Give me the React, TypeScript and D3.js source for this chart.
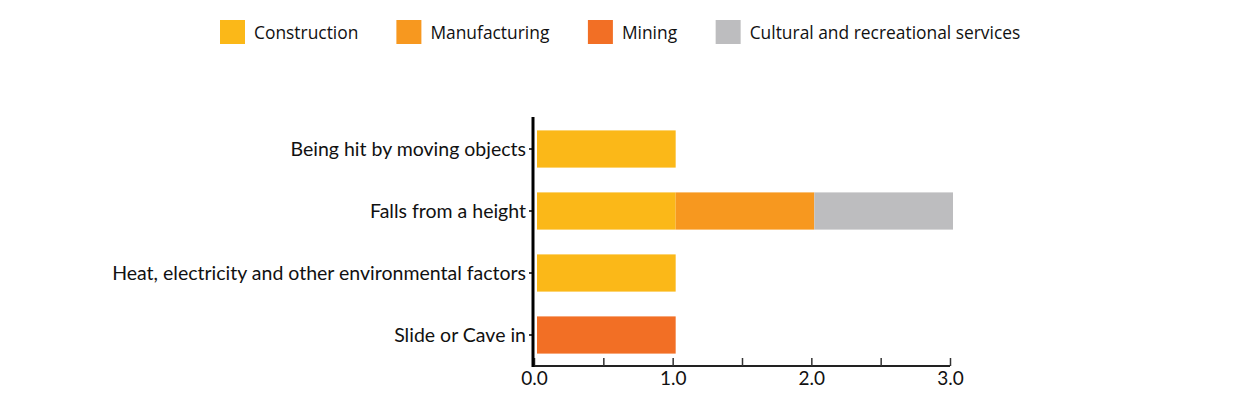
import React, { useRef, useEffect } from "react";
import * as d3 from "d3";

const categories = [
  "Being hit by moving objects",
  "Falls from a height",
  "Heat, electricity and other environmental factors",
  "Slide or Cave in",
];
const industries = ["Construction", "Manufacturing", "Mining", "Cultural and recreational services"];
const construction = [1, 1, 1, 0];
const manufacturing = [0, 1, 0, 0];
const mining = [0, 0, 0, 1];
const cultural = [0, 1, 0, 0];
const colors = ["#fbb818", "#f7981f", "#f26f25", "#bdbdbf"];
const xTicks = [0, 0.5, 1, 1.5, 2, 2.5, 3];

const W = 1240;
const H = 406;

function draw(el: SVGSVGElement) {
  const svg = d3.select(el);
  svg.selectAll("*").remove();

  const rows = categories.map((c, i) => ({
    category: c,
    Construction: construction[i],
    Manufacturing: manufacturing[i],
    Mining: mining[i],
    "Cultural and recreational services": cultural[i],
  }));
  const stacked = d3.stack<any>().keys(industries)(rows);

  const x = d3.scaleLinear().domain([0, 3]).range([534, 950]);
  const y = d3
    .scaleBand()
    .domain(categories)
    .range([118, 366])
    .paddingInner(0.4)
    .paddingOuter(0.2);
  const color = d3.scaleOrdinal<string>().domain(industries).range(colors);
  const barShift = 3; // bars sit just right of the axis line

  // bars
  svg
    .append("g")
    .selectAll("g")
    .data(stacked)
    .join("g")
    .attr("fill", (s) => color(s.key))
    .selectAll("rect")
    .data((s) => s.filter((d) => d[1] - d[0] > 0))
    .join("rect")
    .attr("x", (d) => x(d[0]) + barShift)
    .attr("y", (d) => y(d.data.category)!)
    .attr("width", (d) => x(d[1]) - x(d[0]))
    .attr("height", y.bandwidth());

  // x axis
  const xAxis = svg
    .append("g")
    .attr("transform", "translate(0,366)")
    .call(
      d3
        .axisBottom(x)
        .tickValues(xTicks)
        .tickSize(-8)
        .tickPadding(6)
        .tickFormat((d) => (Number(d) % 1 === 0 ? d3.format(".1f")(d as number) : ""))
    );
  xAxis.select(".domain").attr("stroke", "#222").attr("stroke-width", 2).attr("d", "M533,0H950");
  xAxis.selectAll(".tick line").attr("stroke", "#333").attr("stroke-width", 1.5);
  xAxis
    .selectAll(".tick text")
    .attr("font-family", "Lato")
    .attr("font-size", 19)
    .attr("fill", "#111");

  // y axis
  const yAxis = svg
    .append("g")
    .attr("transform", "translate(533,0)")
    .call(d3.axisLeft(y).tickSize(4).tickPadding(3));
  yAxis.select(".domain").attr("stroke", "#000").attr("stroke-width", 3).attr("d", "M0,117V367");
  yAxis.selectAll(".tick line").attr("stroke", "#000").attr("stroke-width", 1.5);
  yAxis
    .selectAll(".tick text")
    .attr("font-family", "Lato")
    .attr("font-size", 19.5)
    .attr("dy", "0.36em")
    .attr("fill", "#111");

  // legend
  const legend = svg.append("g");
  let cx = 220;
  industries.forEach((k, i) => {
    const item = legend.append("g").attr("transform", `translate(${cx},0)`);
    item.append("rect").attr("x", 0).attr("y", 20).attr("width", 25).attr("height", 24).attr("fill", colors[i]);
    const t = item
      .append("text")
      .attr("x", 34)
      .attr("y", 33)
      .attr("dy", "0.35em")
      .attr("font-family", "Open Sans")
      .attr("font-size", 17.4)
      .attr("fill", "#111")
      .text(k);
    const w = (t.node() as SVGTextElement).getBBox().width;
    cx += 34 + w + 38;
  });
}

function App() {
  const svgRef = useRef<SVGSVGElement | null>(null);

  useEffect(() => {
    const el = svgRef.current;
    if (!el) return;
    draw(el);
    // redraw once fonts are ready so legend widths are measured in the right font
    Promise.all([
      document.fonts.load('17px "Open Sans"'),
      document.fonts.load("19px Lato"),
    ])
      .then(() => document.fonts.ready)
      .then(() => draw(el))
      .catch(() => {});
  }, []);

  return (
    <div style={{ position: "absolute", left: 0, top: 0 }}>
      <svg ref={svgRef} width={W} height={H} style={{ display: "block", background: "#fff" }} />
    </div>
  );
}

export default App;
